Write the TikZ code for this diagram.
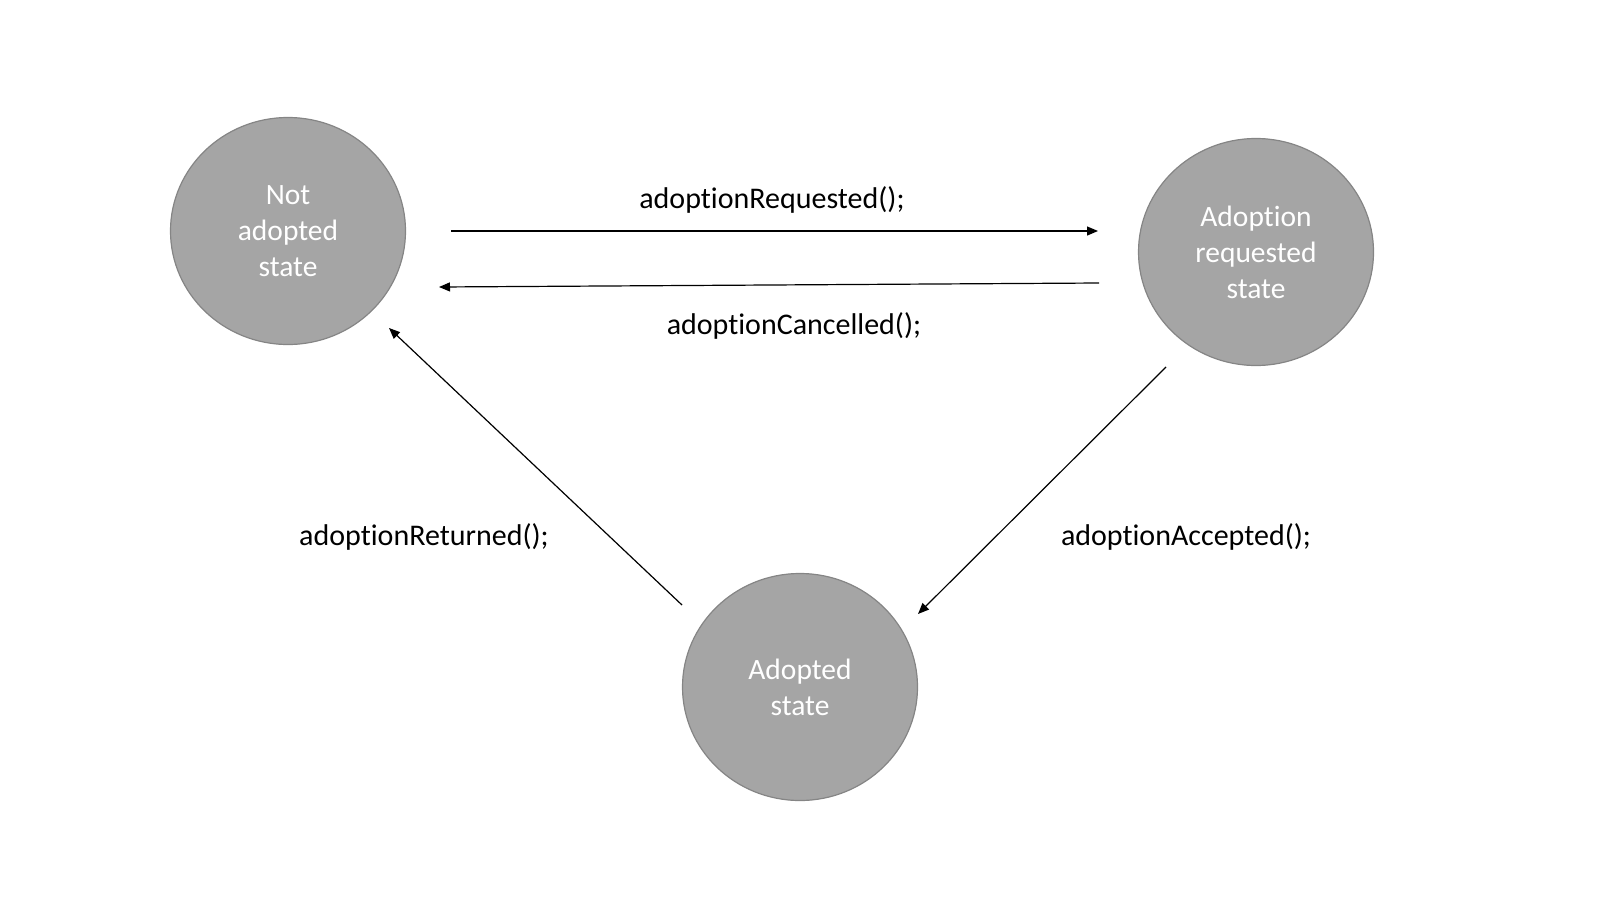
\documentclass[tikz,border=0pt]{standalone}
\usepackage{fontspec}
\setmainfont{Carlito}[Ligatures=CommonOff]
\usetikzlibrary{shapes.geometric,arrows.meta}
\definecolor{statefill}{HTML}{A5A5A5}
\definecolor{stateedge}{HTML}{858585}
\tikzset{
  state/.style={ellipse, draw=stateedge, line width=1.2pt, fill=statefill,
    minimum width=235pt, minimum height=227pt, inner sep=0pt,
    text=white, align=center, font=\fontsize{29.5}{36}\selectfont},
  lbl/.style={font=\fontsize{30}{34}\selectfont, text=black, inner sep=0pt},
  conn/.style={line width=1.2pt, -{Triangle[length=11pt,width=9pt]}}
}
\begin{document}
\begin{tikzpicture}[x=1pt,y=-1pt]
\useasboundingbox (0,0) rectangle (1600,900);
\node[state] (na) at (288,231) {Not\\adopted\\state};
\node[state] (ar) at (1256,252) {Adoption\\requested\\state};
\node[state] (ad) at (800,687) {Adopted\\state};
\coordinate (a1s) at (451,231);
\coordinate (a1e) at (1098,231);
\coordinate (a2s) at (1099,283);
\coordinate (a2e) at (439,287);
\coordinate (a3s) at (1166,367);
\coordinate (a3e) at (918,614);
\coordinate (a4s) at (682,605);
\coordinate (a4e) at (389,328);
\draw[conn] (a1s) -- (a1e);
\draw[conn] (a2s) -- (a2e);
\draw[conn] (a3s) -- (a3e);
\draw[conn] (a4s) -- (a4e);
\node[lbl] (l1) at (772,200) {adoptionRequested();};
\node[lbl] (l2) at (794,326) {adoptionCancelled();};
\node[lbl] (l3) at (424,537) {adoptionReturned();};
\node[lbl] (l4) at (1186,537) {adoptionAccepted();};
\end{tikzpicture}
\end{document}
